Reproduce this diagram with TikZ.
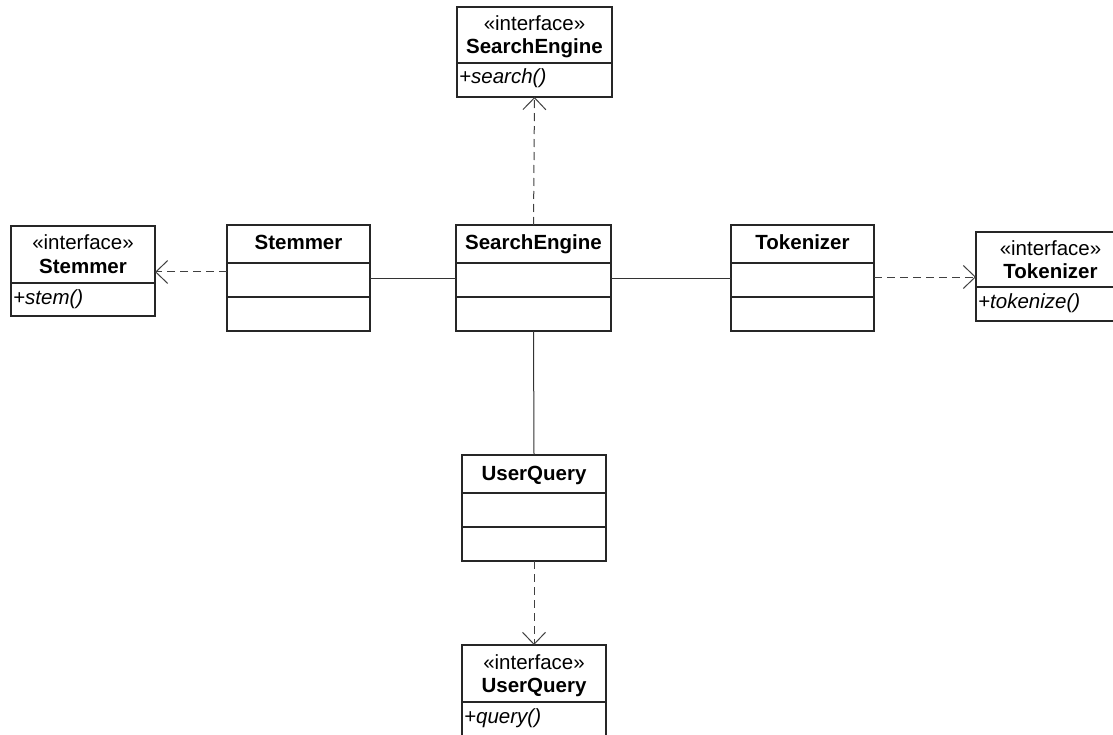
\documentclass[tikz,border=0pt]{standalone}
\usepackage{fontspec}
\setmainfont{Liberation Sans}
\usetikzlibrary{arrows.meta}

\tikzset{
  umlbox/.style={draw=black!85, line width=1.8pt, inner sep=0pt, outer sep=0pt, fill=white},
  divider/.style={draw=black!85, line width=1.8pt},
  titletext/.style={font=\fontsize{20.5}{24}\selectfont\bfseries, inner sep=0pt, anchor=base},
  stereotext/.style={font=\fontsize{20.5}{24}\selectfont, inner sep=0pt, anchor=base},
  optext/.style={font=\fontsize{20.5}{24}\selectfont\itshape, inner sep=0pt, anchor=base west},
  assoc/.style={draw=black!80, line width=1pt},
  realize/.style={draw=black!75, line width=1pt, dash pattern=on 8pt off 5pt,
    -{Straight Barb[length=12pt, width=23pt, line width=1pt]}},
}

% interface box: name, x1, y1, x2, y2, divider y, title, operation
\newcommand\umlinterface[8]{%
  \node[umlbox, anchor=north west, minimum width={#4-#2}, minimum height={#5-#3}] (#1) at (#2,#3) {};
  \draw[divider] (#2,#6) -- (#4,#6);
  \node[stereotext] (#1-st) at ({(#2+#4)/2},{#3+24}) {«interface»};
  \node[titletext] (#1-nm) at ({(#2+#4)/2},{#3+47}) {#7};
  \node[optext] (#1-op) at ({#2+2},{#6+21}) {#8};
}

% class box with empty attribute and operation compartments: name, x1, y1, x2, y2, title
\newcommand\umlclass[6]{%
  \node[umlbox, anchor=north west, minimum width={#4-#2}, minimum height={#5-#3}] (#1) at (#2,#3) {};
  \draw[divider] (#2,{#3+38}) -- (#4,{#3+38});
  \draw[divider] (#2,{#3+72}) -- (#4,{#3+72});
  \node[titletext] (#1-nm) at ({(#2+#4)/2},{#3+25}) {#6};
}

\begin{document}
\begin{tikzpicture}[x=1pt, y=-1pt]
  \useasboundingbox (0,0) rectangle (1113,735);
  \clip (0,0) rectangle (1113,735);

  % interfaces
  \umlinterface{seif}{457}{7}{612}{97}{63}{SearchEngine}{+search()}
  \umlinterface{stemif}{11}{226}{155}{316}{283}{Stemmer}{+stem()}
  \umlinterface{tokif}{976}{232}{1125}{321}{287}{Tokenizer}{+tokenize()}
  \umlinterface{uqif}{462}{645}{606}{760}{702}{UserQuery}{+query()}

  % classes
  \umlclass{stem}{227}{225}{370}{331}{Stemmer}
  \umlclass{se}{456}{225}{611}{331}{SearchEngine}
  \umlclass{tok}{731}{225}{874}{331}{Tokenizer}
  \umlclass{uq}{462}{455}{606}{561}{UserQuery}

  % heights of the horizontal connectors
  \coordinate (ystem) at (0,272);
  \coordinate (ytok) at (0,277);
  \coordinate (yassoc) at (0,278);

  % associations
  \draw[assoc] (stem.east |- yassoc) -- (se.west |- yassoc);
  \draw[assoc] (se.east |- yassoc) -- (tok.west |- yassoc);
  \draw[assoc] (se.south) -- (uq.north);

  % realizations
  \draw[realize] (se.north) -- (seif.south);
  \draw[realize] (stem.west |- ystem) -- (stemif.east |- ystem);
  \draw[realize] (tok.east |- ytok) -- (tokif.west |- ytok);
  \draw[realize] (uq.south) -- (uqif.north);
\end{tikzpicture}
\end{document}
